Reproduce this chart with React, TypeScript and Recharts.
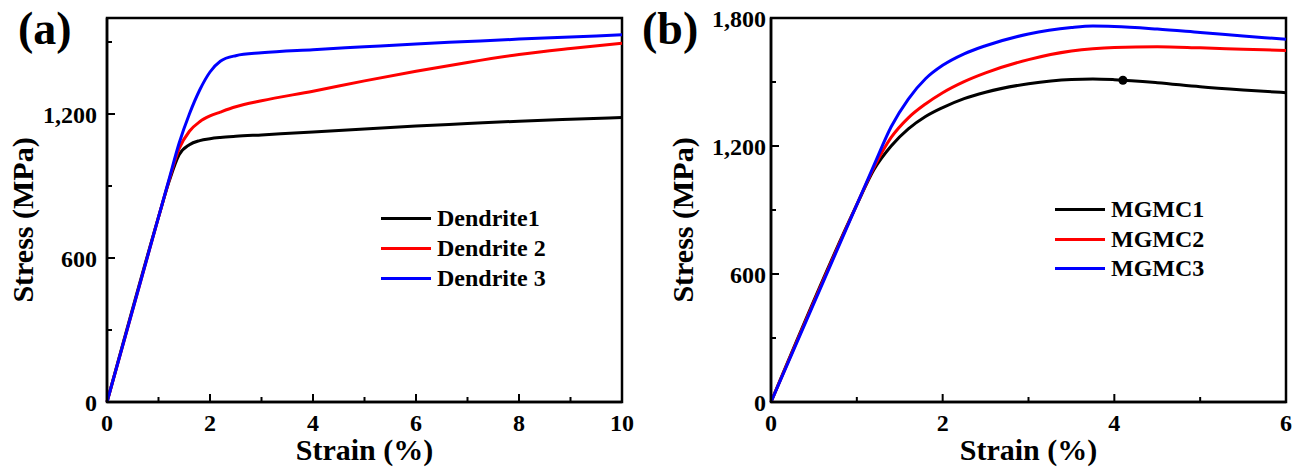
import { LineChart, Line, XAxis, YAxis, ReferenceArea, ReferenceDot } from "recharts";

// panel (a): dendrites
const strainA = [0, 1.0, 1.2, 1.4, 1.6, 1.8, 2.0, 2.2, 2.5, 3, 4, 5, 6, 7, 8, 9, 10];
const dendrite1 = [0, 770, 915, 1030, 1072, 1089, 1097, 1102, 1107, 1113, 1125, 1138, 1150, 1160, 1170, 1178, 1185];
const dendrite2 = [0, 770, 920, 1055, 1128, 1168, 1192, 1208, 1230, 1255, 1295, 1338, 1378, 1415, 1448, 1473, 1495];
const dendrite3 = [0, 770, 924, 1078, 1200, 1300, 1375, 1420, 1443, 1455, 1468, 1480, 1492, 1502, 1512, 1521, 1530];
const xTicksA = [0, 1, 2, 3, 4, 5, 6, 7, 8, 9, 10];
const xLabelsA = [0, 2, 4, 6, 8, 10];
const yTicksA = [0, 300, 600, 900, 1200, 1500];
const yLabelsA = [0, 600, 1200];

// panel (b): MGMCs
const strainB = [0, 1.0, 1.2, 1.4, 1.6, 1.8, 2.0, 2.25, 2.5, 3, 3.5, 3.75, 4, 4.5, 5, 5.5, 6];
const mgmc1 = [0, 925, 1090, 1200, 1280, 1338, 1380, 1422, 1452, 1492, 1512, 1514, 1511, 1497, 1478, 1463, 1450];
const mgmc2 = [0, 925, 1100, 1240, 1332, 1397, 1450, 1502, 1543, 1605, 1645, 1656, 1662, 1665, 1660, 1654, 1648];
const mgmc3 = [0, 925, 1110, 1290, 1420, 1515, 1578, 1632, 1670, 1725, 1755, 1762, 1760, 1748, 1732, 1716, 1700];
const xTicksB = [0, 1, 2, 3, 4, 5, 6];
const xLabelsB = [0, 2, 4, 6];
const yTicksB = [0, 300, 600, 900, 1200, 1500, 1800];
const yLabelsB = [0, 600, 1200, 1800];
const failurePoint = { strain: 4.1, stress: 1508 };

const namesA = ["Dendrite1", "Dendrite 2", "Dendrite 3"];
const namesB = ["MGMC1", "MGMC2", "MGMC3"];
const colors = ["#000000", "#ff0000", "#0000ff"];

const dataA = strainA.map((s, i) => ({ strain: s, s1: dendrite1[i], s2: dendrite2[i], s3: dendrite3[i] }));
const dataB = strainB.map((s, i) => ({ strain: s, s1: mgmc1[i], s2: mgmc2[i], s3: mgmc3[i] }));

const FONT = "'Liberation Serif', 'Times New Roman', serif";

const renderXTick = (labels: number[]) => (p: any) => {
    const major = labels.includes(p.payload.value);
    return (
        <g>
            <line x1={p.x} x2={p.x} y1={p.y} y2={p.y - (major ? 8 : 5)} stroke="#000" strokeWidth={2} />
            {major && (
                <text x={p.x} y={p.y + 29} textAnchor="middle" fontFamily={FONT} fontWeight="bold" fontSize={24} fill="#000">
                    {p.payload.value}
                </text>
            )}
        </g>
    );
};

const renderYTick = (labels: number[], gap: number) => (p: any) => {
    const major = labels.includes(p.payload.value);
    return (
        <g>
            <line x1={p.x} x2={p.x + (major ? 8 : 5)} y1={p.y} y2={p.y} stroke="#000" strokeWidth={2} />
            {major && (
                <text x={p.x - gap} y={p.y + 8.5} textAnchor="end" fontFamily={FONT} fontWeight="bold" fontSize={24} fill="#000">
                    {p.payload.value.toLocaleString("en-US")}
                </text>
            )}
        </g>
    );
};

const xTitle = (props: any) => {
    const { x, y, width } = props.viewBox;
    return (
        <text x={x + width / 2} y={y + 58} textAnchor="middle" fontFamily={FONT} fontWeight="bold" fontSize={30} fill="#000">
            Strain (%)
        </text>
    );
};

const yTitle = (dx: number) => (props: any) => {
    const { x, y } = props.viewBox;
    const tx = x + dx;
    const ty = y + 202;
    return (
        <text x={tx} y={ty} transform={`rotate(-90, ${tx}, ${ty})`} textAnchor="middle" fontFamily={FONT} fontWeight="bold" fontSize={30} fill="#000">
            Stress (MPa)
        </text>
    );
};

const LegendBox = ({ names, left, top, row }: { names: string[]; left: number; top: number; row: number }) => (
    <div style={{ position: "absolute", left, top, fontFamily: FONT, fontWeight: "bold", fontSize: 24 }}>
        {names.map((n, i) => (
            <div key={n} style={{ display: "flex", alignItems: "center", height: row, lineHeight: `${row}px` }}>
                <div style={{ width: 50, height: 3, background: colors[i], marginRight: 6 }} />
                <span>{n}</span>
            </div>
        ))}
    </div>
);

const PanelTag = ({ text, left }: { text: string; left: number }) => (
    <div style={{ position: "absolute", left, top: 2, fontFamily: FONT, fontWeight: "bold", fontSize: 46, lineHeight: "54px" }}>
        {text}
    </div>
);

const axisLine = { stroke: "#000", strokeWidth: 2.5 };

export default function App() {
    return (
        <div style={{ position: "absolute", left: 0, top: 0, width: 1314, height: 470, background: "#fff" }}>
            <div style={{ position: "absolute", left: 0, top: 0 }}>
                <LineChart width={657} height={470} data={dataA} margin={{ top: 18, right: 35, bottom: 0, left: 0 }}>
                    <XAxis dataKey="strain" type="number" domain={[0, 10]} ticks={xTicksA} interval={0} tickSize={0} tickMargin={0}
                        tickLine={false} axisLine={axisLine} height={68} tick={renderXTick(xLabelsA)} label={{ content: xTitle }} />
                    <YAxis type="number" domain={[0, 1600]} ticks={yTicksA} interval={0} tickSize={0} tickMargin={0}
                        tickLine={false} axisLine={axisLine} width={107} tick={renderYTick(yLabelsA, 10)} label={{ content: yTitle(33) }} />
                    <ReferenceArea x1={0} x2={10} y1={0} y2={1600} fill="none" stroke="#000" strokeWidth={2.5} ifOverflow="visible" />
                    {["s1", "s2", "s3"].map((k, i) => (
                        <Line key={k} type="monotone" dataKey={k} name={namesA[i]} stroke={colors[i]} strokeWidth={3}
                            dot={false} activeDot={false} isAnimationActive={false} />
                    ))}
                </LineChart>
            </div>
            <div style={{ position: "absolute", left: 657, top: 0 }}>
                <LineChart width={657} height={470} data={dataB} margin={{ top: 18, right: 28, bottom: 0, left: 0 }}>
                    <XAxis dataKey="strain" type="number" domain={[0, 6]} ticks={xTicksB} interval={0} tickSize={0} tickMargin={0}
                        tickLine={false} axisLine={axisLine} height={68} tick={renderXTick(xLabelsB)} label={{ content: xTitle }} />
                    <YAxis type="number" domain={[0, 1800]} ticks={yTicksB} interval={0} tickSize={0} tickMargin={0}
                        tickLine={false} axisLine={axisLine} width={114} tick={renderYTick(yLabelsB, 5)} label={{ content: yTitle(36) }} />
                    <ReferenceArea x1={0} x2={6} y1={0} y2={1800} fill="none" stroke="#000" strokeWidth={2.5} ifOverflow="visible" />
                    {["s1", "s2", "s3"].map((k, i) => (
                        <Line key={k} type="monotone" dataKey={k} name={namesB[i]} stroke={colors[i]} strokeWidth={3}
                            dot={false} activeDot={false} isAnimationActive={false} />
                    ))}
                    <ReferenceDot x={failurePoint.strain} y={failurePoint.stress} r={4.5} fill="#000" stroke="none" ifOverflow="visible" />
                </LineChart>
            </div>
            <LegendBox names={namesA} left={381} top={203} row={30} />
            <LegendBox names={namesB} left={1055} top={195} row={29.5} />
            <PanelTag text="(a)" left={18} />
            <PanelTag text="(b)" left={642} />
        </div>
    );
}
